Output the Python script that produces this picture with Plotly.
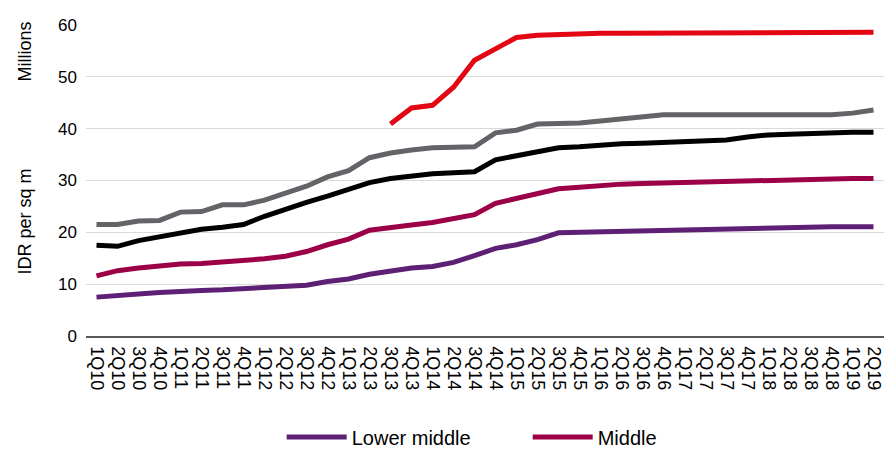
import plotly.graph_objects as go

quarters = ["1Q10", "2Q10", "3Q10", "4Q10", "1Q11", "2Q11", "3Q11", "4Q11",
            "1Q12", "2Q12", "3Q12", "4Q12", "1Q13", "2Q13", "3Q13", "4Q13",
            "1Q14", "2Q14", "3Q14", "4Q14", "1Q15", "2Q15", "3Q15", "4Q15",
            "1Q16", "2Q16", "3Q16", "4Q16", "1Q17", "2Q17", "3Q17", "4Q17",
            "1Q18", "2Q18", "3Q18", "4Q18", "1Q19", "2Q19"]

lower_middle = [7.5, 7.9, 8.1, 8.4, 8.7, 8.8, 8.9, 9.1, 9.4, 9.5, 9.8, 10.5,
                11.0, 11.9, 12.6, 13.1, 13.4, 14.2, 15.5, 16.9, 17.6, 18.6,
                19.9, 20.0, 20.0, 20.1, 20.2, 20.4, 20.5, 20.7, 20.8, 20.9,
                21.0, 21.1, 21.1, 21.1, 21.1, 21.1]

middle = [11.6, 12.6, 13.1, 13.6, 13.9, 14.0, 14.3, 14.5, 14.9, 15.4, 16.3, 17.6,
          18.7, 20.4, 21.0, 21.4, 21.9, 22.6, 23.4, 25.6, 26.6, 27.5, 28.4, 28.7,
          29.1, 29.3, 29.4, 29.5, 29.7, 29.9, 30.0, 30.1, 30.2, 30.2, 30.3, 30.4,
          30.4, 30.4]

upper_middle = [17.5, 17.3, 18.4, 19.2, 19.9, 20.6, 21.0, 21.5, 23.1, 24.5, 25.8,
                27.0, 28.2, 29.6, 30.4, 30.9, 31.3, 31.5, 31.7, 34.0, 34.8, 35.5,
                36.3, 36.5, 36.9, 37.1, 37.2, 37.4, 37.5, 37.6, 37.8, 38.4, 38.8,
                38.9, 39.1, 39.2, 39.3, 39.3]

upper = [21.5, 21.5, 22.2, 22.3, 23.9, 24.0, 25.3, 25.3, 26.2, 27.5, 28.9, 30.7,
         31.9, 34.4, 35.3, 35.9, 36.3, 36.4, 36.5, 39.2, 39.7, 40.9, 40.9, 41.1,
         41.5, 41.9, 42.3, 42.7, 42.7, 42.7, 42.7, 42.7, 42.7, 42.7, 42.7, 42.7,
         43.0, 43.6]

luxury = [None] * 14 + [40.9, 44.0, 44.5, 48.0, 53.2, 55.5, 57.6, 58.0, 58.2, 58.3,
                        58.4, 58.4, 58.4, 58.4, 58.4, 58.4, 58.4, 58.4, 58.4, 58.4,
                        58.4, 58.5, 58.6, 58.6]

y_ticks = [0, 10, 20, 30, 40, 50, 60]

FONT = "Liberation Sans, Arial, sans-serif"

series = [
    ("Luxury", luxury, "#E30613", False),
    ("Upper", upper, "#636368", False),
    ("Upper middle", upper_middle, "#000000", False),
    ("Middle", middle, "#9C0047", True),
    ("Lower middle", lower_middle, "#5E2074", True),
]

fig = go.Figure()
for name, vals, color, show in series:
    fig.add_trace(go.Scatter(
        x=quarters, y=vals, name=name, mode="lines",
        line=dict(color=color, width=5),
        showlegend=show,
    ))

fig.update_layout(
    width=893, height=450,
    margin=dict(l=86, r=9, t=25, b=114, autoexpand=False),
    plot_bgcolor="white", paper_bgcolor="white",
    font=dict(family=FONT, color="#000000", size=17),
    legend=dict(
        orientation="h", x=0.5535, xanchor="center",
        yref="container", y=0.029, yanchor="middle",
        font=dict(size=20), traceorder="reversed", itemwidth=60,
        entrywidth=171, bgcolor="rgba(0,0,0,0)",
    ),
    xaxis=dict(
        type="category", range=[-0.5, 37.5], tickangle=90, tickfont=dict(size=18),
        tickmode="array", tickvals=quarters, ticktext=quarters,
        showgrid=False, showline=True, linecolor="#595959", linewidth=1.5,
        ticks="", zeroline=False, ticklabelstandoff=5,
    ),
    yaxis=dict(
        range=[0, 60], tickvals=y_ticks, tickfont=dict(size=17),
        showgrid=True, gridcolor="#D9D9D9", gridwidth=1,
        zeroline=False, showline=False, ticks="", ticklabelstandoff=8,
    ),
    annotations=[
        dict(text="Millions", xref="paper", yref="y", x=-0.077, y=54.8,
             textangle=-90, showarrow=False, xanchor="center", yanchor="middle",
             font=dict(size=18)),
        dict(text="IDR per sq m", xref="paper", yref="y", x=-0.077, y=22,
             textangle=-90, showarrow=False, xanchor="center", yanchor="middle",
             font=dict(size=18)),
    ],
)

fig.write_html("out.html")
